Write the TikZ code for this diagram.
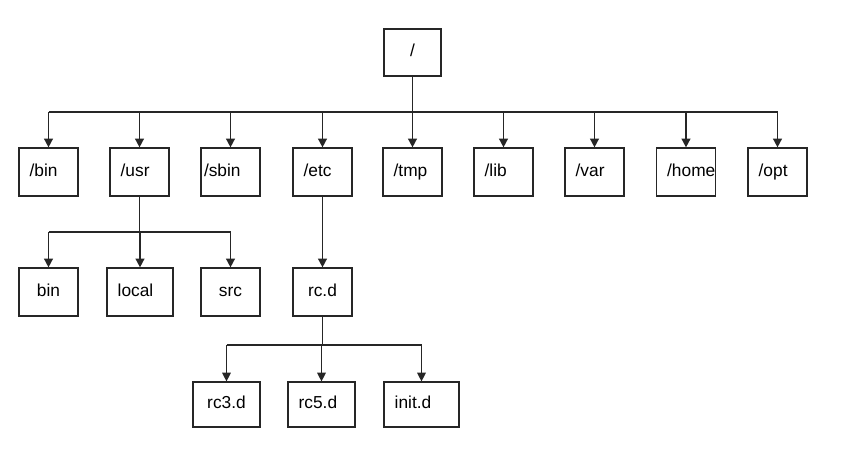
\documentclass[tikz,border=0pt]{standalone}
\usepackage{fontspec}
\setmainfont{Liberation Sans}
\usetikzlibrary{arrows.meta}
\tikzset{
  dir/.style={draw=black!85, line width=0.9pt, minimum height=36pt, inner xsep=8pt, inner ysep=0pt,
    text width=28.25pt, text height=9.5pt, text depth=2.8pt, align=left, font=\fontsize{13}{15}\selectfont},
  dirc/.style={dir, align=center},
  link/.style={draw=black!85, line width=1.2pt},
  arr/.style={link, -{Triangle[width=6.5pt,length=6.5pt]}},
}
\begin{document}
\begin{tikzpicture}[x=0.75pt,y=-0.75pt]
    \useasboundingbox (0,0) rectangle (843,458);

    % root
    \node[dirc, text width=26.75pt, minimum height=35.25pt] (root) at (412.5,52.5) {/};

    % first level
    \node[dir] (bin) at (48.5,172) {/bin};
    \node[dir] (usr) at (139.5,172) {/usr};
    \node[dir, inner xsep=2.25pt, text width=39.75pt] (sbin) at (230.5,172) {/sbin};
    \node[dir] (etc) at (322.5,172) {/etc};
    \node[dir] (tmp) at (412.5,172) {/tmp};
    \node[dir] (lib) at (503.5,172) {/lib};
    \node[dir] (var) at (594.5,172) {/var};
    \node[dir] (home) at (686,172) {/home};
    \node[dir] (opt) at (777.5,172) {/opt};

    % under /usr and /etc
    \node[dirc] (usrbin) at (48.5,292) {bin};
    \node[dir, text width=33.5pt] (usrlocal) at (140,292) {local};
    \node[dirc] (usrsrc) at (230.5,292) {src};
    \node[dirc] (rcd) at (322.5,292) {rc.d};

    % under rc.d
    \node[dirc, text width=34.25pt, minimum height=33.75pt] (rcthree) at (226.5,404.5) {rc3.d};
    \node[dir, text width=34.25pt, minimum height=33.75pt] (rcfive) at (321.5,404.5) {rc5.d};
    \node[dir, text width=40.25pt, minimum height=33.75pt] (initd) at (421.5,404.5) {init.d};

    \coordinate (bus1) at (0,112);
    \coordinate (bus2) at (0,232);
    \coordinate (bus3) at (0,345);

    \draw[link] (root) -- (root|-bus1);
    \draw[link] (bin|-bus1) -- (opt|-bus1);
    \foreach \n in {bin,usr,sbin,etc,tmp,lib,var,home,opt}{
    \draw[arr] (\n|-bus1) -- (\n);
    }

    \draw[link] (usr) -- (usr|-bus2);
    \draw[link] (usrbin|-bus2) -- (usrsrc|-bus2);
    \foreach \n in {usrbin,usrlocal,usrsrc}{
    \draw[arr] (\n|-bus2) -- (\n);
    }
    \draw[arr] (etc) -- (rcd);

    \draw[link, line width=0.9pt] (rcd) -- (rcd|-bus3);
    \draw[link, line width=0.9pt] (rcthree|-bus3) -- (initd|-bus3);
    \foreach \n in {rcthree,rcfive,initd}{
    \draw[arr, line width=0.9pt] (\n|-bus3) -- (\n);
    }
\end{tikzpicture}
\end{document}
